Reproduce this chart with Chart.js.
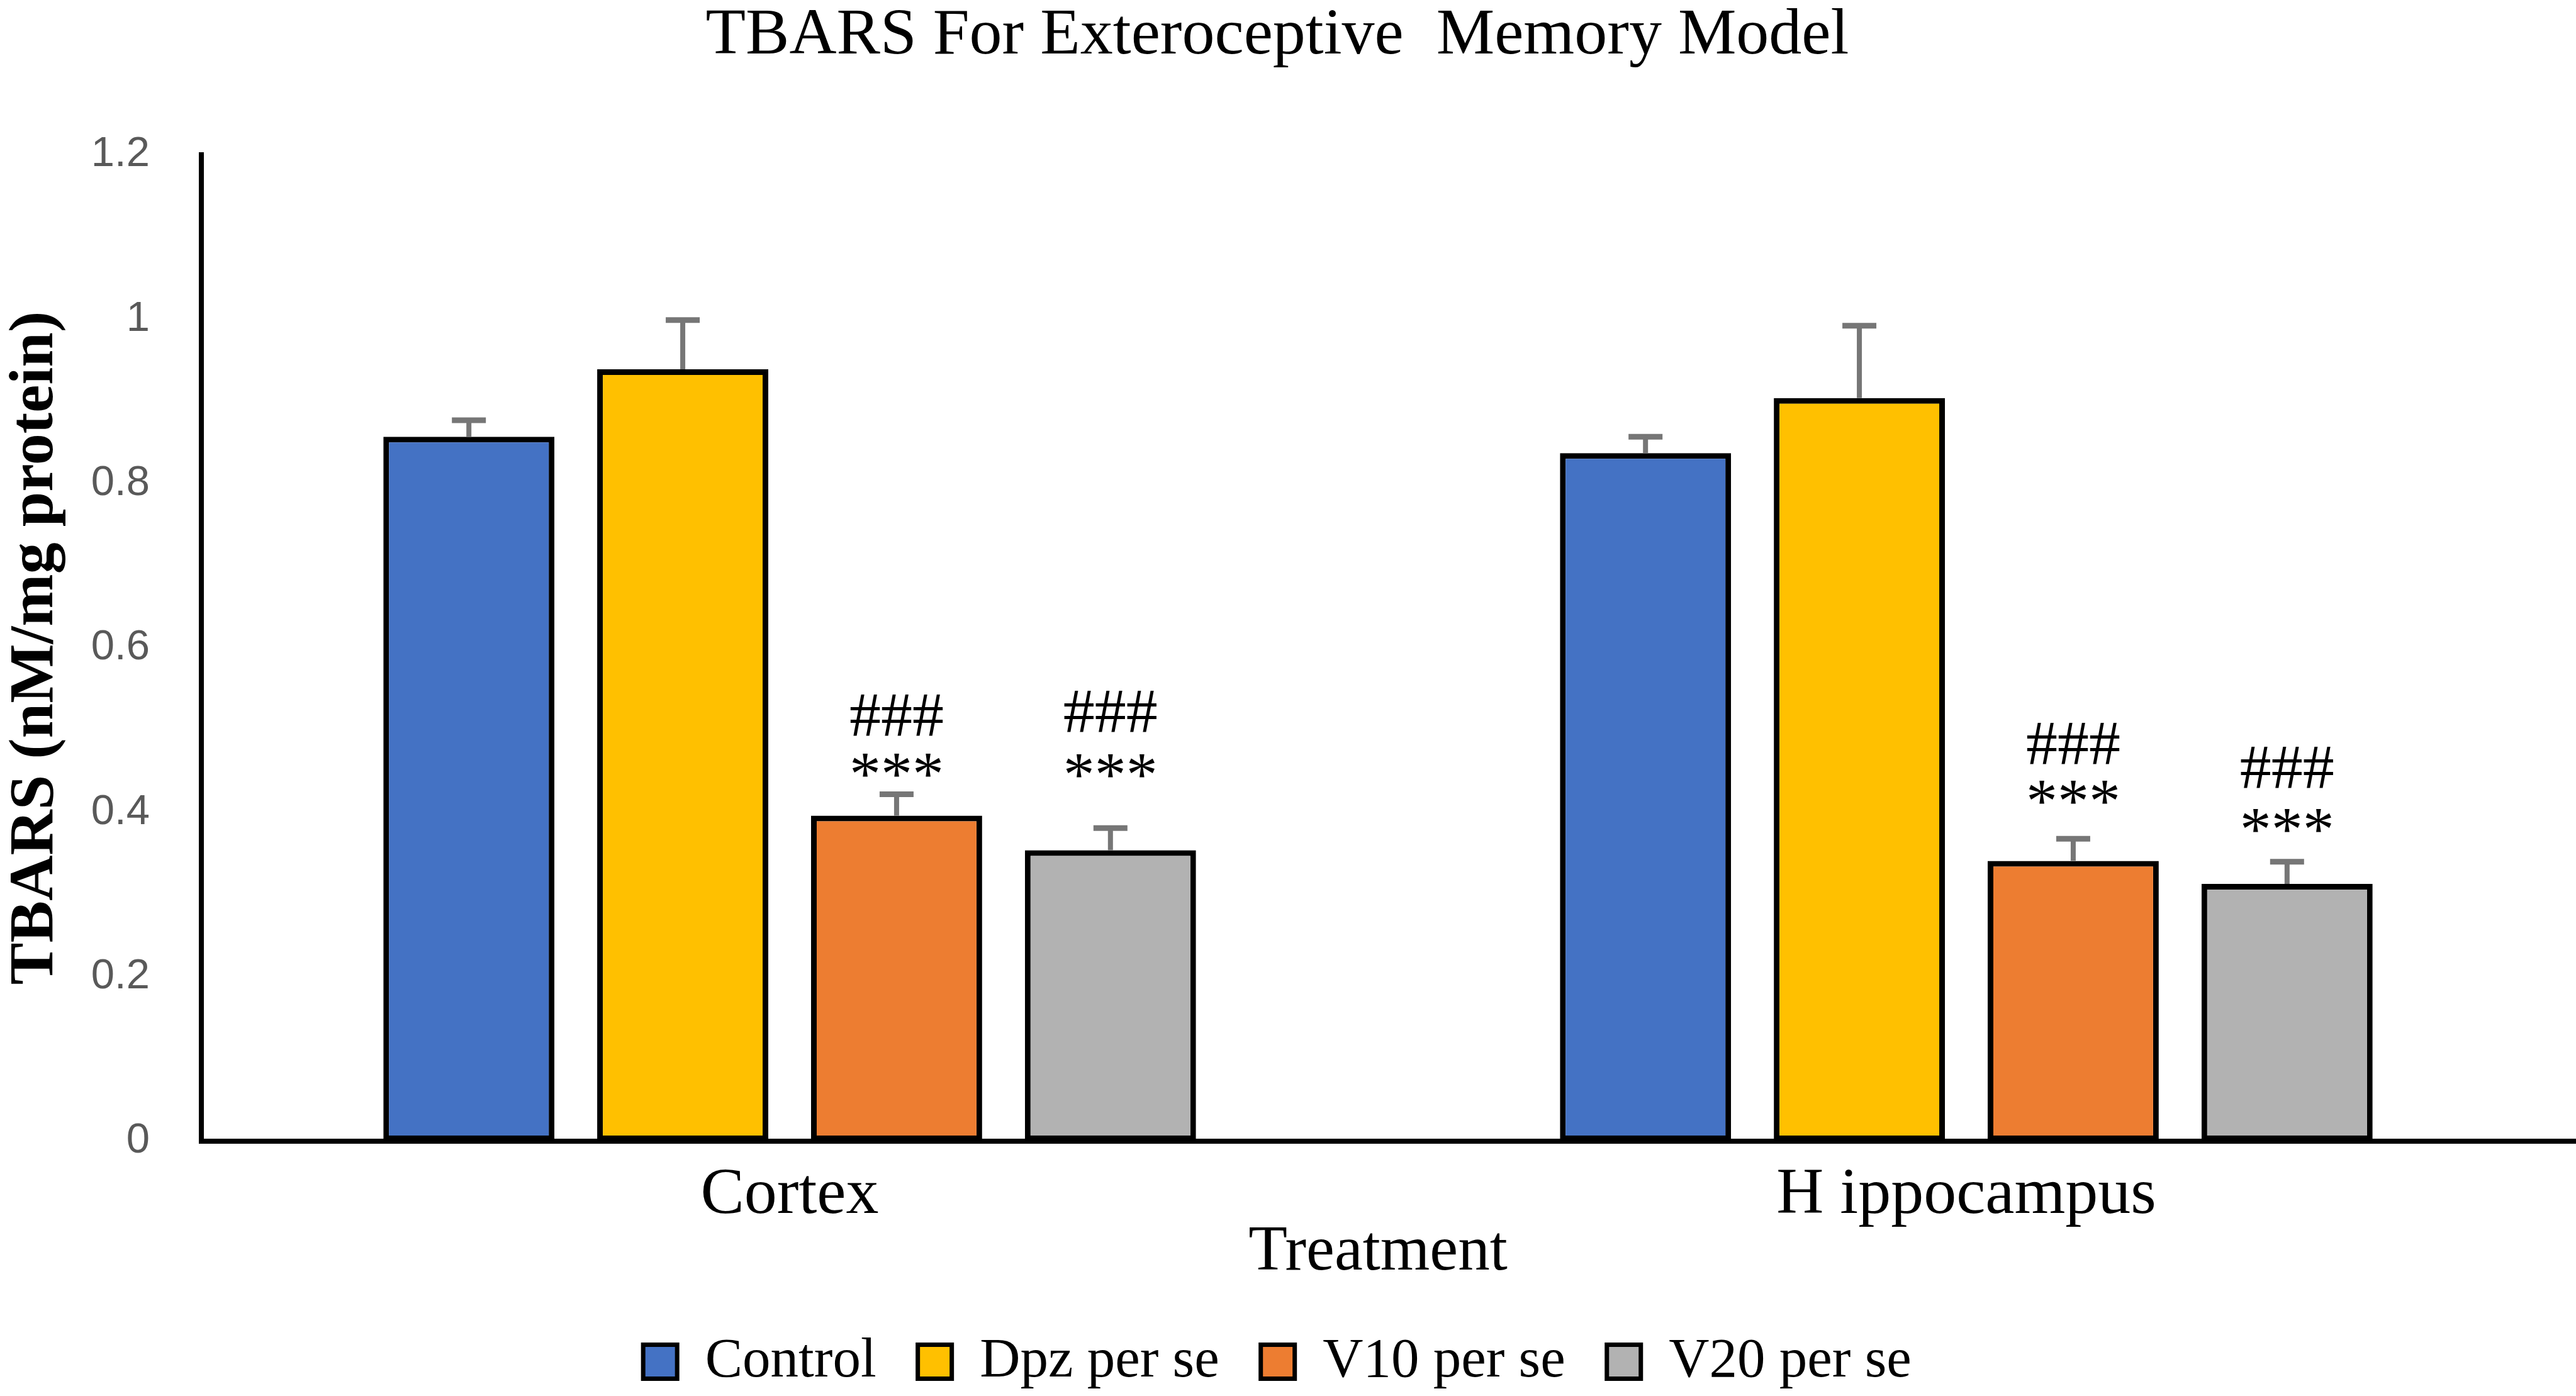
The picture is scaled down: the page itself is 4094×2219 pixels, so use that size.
<!DOCTYPE html>
<html>
<head>
<meta charset="utf-8">
<script src="https://cdn.jsdelivr.net/npm/chart.js@4.4.0/dist/chart.umd.min.js"></script>
<style>
  html, body { margin: 0; padding: 0; background: #fff; }
  #wrap { width: 4094px; height: 2219px; }
</style>
</head>
<body>
<div id="wrap"><canvas id="myChart" width="4094" height="2219"></canvas></div>
<script>
// data
const categories = ["Cortex", "H ippocampus"];
const seriesNames = ["Control", "Dpz per se", "V10 per se", "V20 per se"];
const control = [0.857, 0.837];
const dpz = [0.939, 0.904];
const v10 = [0.396, 0.341];
const v20 = [0.354, 0.313];
const controlErr = [0.02, 0.02];
const dpzErr = [0.06, 0.088];
const v10Err = [0.026, 0.027];
const v20Err = [0.027, 0.027];
// significance marks ("###" and "***"), level of the text baseline in y units
const v10HashAt = [0.494, 0.459];
const v10StarAt = [0.422, 0.389];
const v20HashAt = [0.498, 0.430];
const v20StarAt = [0.421, 0.354];
const yMax = 1.2;
const yStep = 0.2;

const colors = ["#4472C4", "#FFC000", "#ED7D31", "#B2B2B2"];
const values = [control, dpz, v10, v20];
const errors = [controlErr, dpzErr, v10Err, v20Err];
const marks = [null, null,
  [{text: "###", at: v10HashAt}, {text: "***", at: v10StarAt}],
  [{text: "###", at: v20HashAt}, {text: "***", at: v20StarAt}]];

const serif = "'Liberation Serif', 'Times New Roman', serif";

// error bars (upper only)
const errorBars = {
  id: "errorBars",
  afterDatasetsDraw(chart) {
    const ctx = chart.ctx;
    const y = chart.scales.y;
    ctx.save();
    ctx.strokeStyle = "#767676";
    chart.data.datasets.forEach((ds, i) => {
      chart.getDatasetMeta(i).data.forEach((bar, j) => {
        const top = y.getPixelForValue(ds.data[j]);
        const cap = y.getPixelForValue(ds.data[j] + errors[i][j]);
        ctx.lineWidth = 8;
        ctx.beginPath();
        ctx.moveTo(bar.x, top);
        ctx.lineTo(bar.x, cap);
        ctx.stroke();
        ctx.lineWidth = 9;
        ctx.beginPath();
        ctx.moveTo(bar.x - 27, cap);
        ctx.lineTo(bar.x + 27, cap);
        ctx.stroke();
      });
    });
    ctx.restore();
  }
};

// ### / *** labels
const sigMarks = {
  id: "sigMarks",
  afterDatasetsDraw(chart) {
    const ctx = chart.ctx;
    const y = chart.scales.y;
    ctx.save();
    ctx.fillStyle = "#000";
    ctx.font = "100px " + serif;
    ctx.textAlign = "center";
    ctx.textBaseline = "alphabetic";
    marks.forEach((list, i) => {
      if (!list) return;
      chart.getDatasetMeta(i).data.forEach((bar, j) => {
        list.forEach(m => ctx.fillText(m.text, bar.x, y.getPixelForValue(m.at[j])));
      });
    });
    ctx.restore();
  }
};

// the x axis line runs on to the right edge
const axisTail = {
  id: "axisTail",
  afterDraw(chart) {
    const ctx = chart.ctx;
    const a = chart.chartArea;
    ctx.save();
    ctx.strokeStyle = "#000";
    ctx.lineWidth = 8;
    ctx.beginPath();
    ctx.moveTo(a.right - 2, a.bottom);
    ctx.lineTo(chart.width, a.bottom);
    ctx.stroke();
    ctx.restore();
  }
};

const ctx = document.getElementById("myChart").getContext("2d");
const myChart = new Chart(ctx, {
  type: "bar",
  data: {
    labels: categories,
    datasets: seriesNames.map((name, i) => ({
      label: name,
      data: values[i],
      backgroundColor: colors[i],
      borderColor: "#000",
      borderWidth: 9,
      borderSkipped: false,
      barPercentage: 0.80,
      categoryPercentage: 0.727
    }))
  },
  options: {
    responsive: false,
    animation: false,
    devicePixelRatio: 1,
    layout: { padding: { top: 2, right: 34, bottom: 0, left: 0 } },
    plugins: {
      title: {
        display: true,
        text: "TBARS For Exteroceptive  Memory Model",
        color: "#000",
        font: { family: serif, size: 104, weight: "normal", lineHeight: 1 },
        padding: { top: 4, bottom: 136 }
      },
      legend: {
        position: "bottom",
        labels: {
          color: "#000",
          font: { family: serif, size: 89, lineHeight: 1 },
          boxWidth: 54,
          boxHeight: 54,
          padding: 66,
          generateLabels(chart) {
            return Chart.defaults.plugins.legend.labels.generateLabels(chart)
              .map(l => Object.assign(l, { lineWidth: 7 }));
          }
        }
      },
      tooltip: { enabled: false }
    },
    scales: {
      x: {
        grid: { display: false, drawTicks: false },
        border: { display: true, color: "#000", width: 8 },
        ticks: {
          color: "#000",
          font: { family: serif, size: 104, lineHeight: 1 },
          padding: 35
        },
        title: {
          display: true,
          text: "Treatment",
          color: "#000",
          font: { family: serif, size: 101, lineHeight: 1 },
          padding: { top: 0, bottom: 12 }
        },
        afterFit(scale) { scale.height = 240; }
      },
      y: {
        min: 0,
        max: yMax,
        grid: { display: false, drawTicks: false },
        border: { display: true, color: "#000", width: 8 },
        ticks: {
          stepSize: yStep,
          color: "#595959",
          font: { family: "'Liberation Sans Narrow', 'Liberation Sans', sans-serif", size: 67 },
          padding: 82,
          callback: v => String(Math.round(v * 10) / 10)
        },
        title: {
          display: true,
          text: "TBARS (nM/mg protein)",
          color: "#000",
          font: { family: serif, size: 100, weight: "bold", lineHeight: 1 },
          padding: { top: 7, bottom: 0 }
        },
        afterFit(scale) { scale.width = 320; }
      }
    }
  },
  plugins: [errorBars, sigMarks, axisTail]
});
</script>
</body>
</html>
